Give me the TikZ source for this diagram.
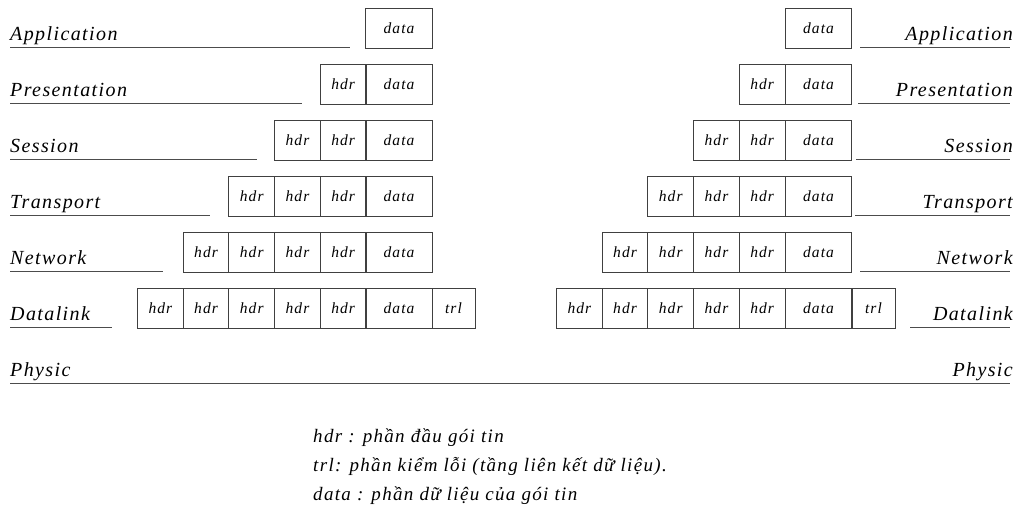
\documentclass[tikz,border=0pt]{standalone}
\usepackage{fontspec}
\setmainfont{Liberation Serif}
\newfontfamily\nghieng[LetterSpace=7]{Liberation Serif}
\usetikzlibrary{positioning}
\tikzset{
	tang/.style={font=\nghieng\fontsize{20}{23}\selectfont\itshape, inner sep=0pt},
	goi/.style={draw=black!75, line width=1pt, minimum height=40pt, inner sep=0pt,
		font=\nghieng\fontsize{15.5}{18}\selectfont\itshape},
	ohdr/.style={goi, minimum width=45.7pt},
	odata/.style={goi, minimum width=66.5pt},
	otrl/.style={goi, minimum width=43pt},
	gach/.style={black!70, line width=0.9pt},
	chuthich/.style={font=\nghieng\fontsize{19}{22}\selectfont\itshape, inner sep=0pt, anchor=base west}
}
\begin{document}
\begin{tikzpicture}[x=1pt,y=-1pt]
	\useasboundingbox (0,0) rectangle (1016,507);
	% cac goi tin ben gui va ben nhan
	\foreach \r/\y in {1/28,2/84,3/140,4/196,5/252,6/308}{
		\node[odata] (L\r d) at (399,\y) {data};
		\node[odata] (R\r d) at (818.5,\y) {data};
	}
	\foreach \r/\y in {2/84,3/140,4/196,5/252,6/308}{
		\pgfmathtruncatemacro\n{\r-1}
		\foreach \k in {1,...,\n}{
			\node[ohdr] (L\r h\k) at ({366-45.7*\k+22.85},\y) {hdr};
			\node[ohdr] (R\r h\k) at ({785-45.7*\k+22.85},\y) {hdr};
		}
	}
	\node[otrl] (L6t) at (453.5,308) {trl};
	\node[otrl] (R6t) at (873.5,308) {trl};
	% ten cac tang
	\foreach \r/\ten/\xa/\xb in {1/Application/350/860,2/Presentation/302/858,3/Session/257/856,
		4/Transport/210/855,5/Network/163/860,6/Datalink/112/910}{
		\node[tang, anchor=base west] (tL\r) at (10,{40+56*(\r-1)}) {\ten};
		\node[tang, anchor=base east] (tR\r) at (1013,{40+56*(\r-1)}) {\ten};
		\draw[gach] (10,{47+56*(\r-1)}) -- (\xa,{47+56*(\r-1)});
		\draw[gach] (\xb,{47+56*(\r-1)}) -- (1010,{47+56*(\r-1)});
	}
	\node[tang, anchor=base west] (tL7) at (10,376) {Physic};
	\node[tang, anchor=base east] (tR7) at (1013,376) {Physic};
	\draw[gach] (10,383) -- (1010,383);
	% chu thich
	\node[chuthich] (ct1) at (313,442) {hdr : phần đầu gói tin};
	\node[chuthich] (ct2) at (313,471) {trl: phần kiểm lỗi (tầng liên kết dữ liệu).};
	\node[chuthich] (ct3) at (313,500) {data : phần dữ liệu của gói tin};
\end{tikzpicture}
\end{document}
